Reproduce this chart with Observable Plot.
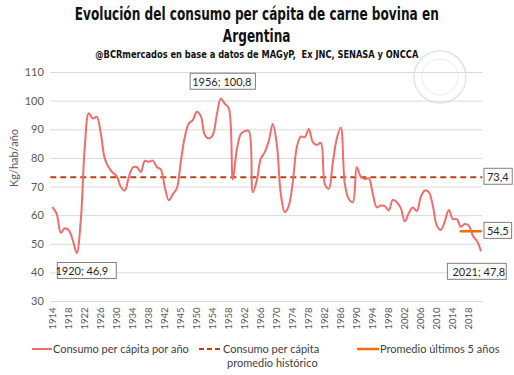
<!DOCTYPE html>
<html>
<head>
<meta charset="utf-8">
<script src="https://cdn.jsdelivr.net/npm/d3@7"></script>
<script src="https://cdn.jsdelivr.net/npm/@observablehq/plot@0.6"></script>
<style>
  body { margin:0; background:#fff; width:514px; height:375px; overflow:hidden; position:relative; font-family: Lato, "Noto Sans", sans-serif; }
  .hd { position:absolute; left:0; width:514px; text-align:center; font-family:"Liberation Sans Narrow","DejaVu Sans Condensed","Roboto",sans-serif; font-weight:bold; color:#111; }
  .hd span { display:inline-block; transform-origin:50% 50%; white-space:nowrap; }
  #t1 { top:3px; font-size:17px; line-height:22px; }
  #t2 { top:25px; font-size:17px; line-height:22px; }
  #sub { top:48px; font-size:10px; line-height:13px; }
  #chart { position:absolute; left:0; top:64px; }
  .leg { position:absolute; font-size:11px; color:#404040; white-space:nowrap; line-height:13px; }
  .legline { position:absolute; }
  #wm { position:absolute; left:410px; top:48px; }
</style>
</head>
<body>
<svg id="wm" width="60" height="60"><circle cx="30" cy="29" r="26" fill="none" stroke="#e4e4e4" stroke-width="1.5"/><circle cx="30" cy="29" r="18" fill="none" stroke="#ececec" stroke-width="1"/></svg>
<div id="t1" class="hd"><span>Evolución del consumo per cápita de carne bovina en</span></div>
<div id="t2" class="hd"><span>Argentina</span></div>
<div id="sub" class="hd"><span>@BCRmercados en base a datos de MAGyP,&nbsp; Ex JNC, SENASA y ONCCA</span></div>
<div id="chart"></div>
<div id="legend"></div>
<script>
// ---- data ----
const startYear = 1914;
const consumo = [
  62.8, 60.5, 54.0, 55.6, 54.9, 51.4, 46.9, 58.4, 84.0, 95.8,
  93.9, 94.5, 88.7, 79.9, 76.8, 75.0, 73.8, 70.0, 68.8, 73.5,
  76.8, 77.0, 75.2, 79.1, 78.8, 79.2, 77.0, 76.1, 70.0, 65.4,
  67.5, 69.5, 78.8, 87.5, 92.2, 93.4, 96.3, 94.8, 88.2, 87.0,
  88.2, 95.2, 100.8, 99.1, 97.5, 72.6, 83.0, 88.5, 89.5, 89.6,
  68.2, 72.3, 79.9, 82.2, 86.1, 92.0, 85.0, 67.6, 61.2, 63.5,
  71.7, 83.9, 87.6, 87.4, 90.3, 85.7, 84.7, 85.4, 71.1, 69.4,
  78.4, 86.9, 90.8, 71.1, 65.8, 64.7, 76.9, 73.6, 72.8, 73.1,
  67.6, 62.9, 63.5, 63.3, 61.8, 65.5, 64.7, 62.6, 58.0, 60.9,
  62.8, 61.6, 66.5, 68.8, 68.2, 63.5, 56.5, 55.0, 58.0, 62.0,
  58.8, 58.8, 56.1, 57.1, 56.5, 53.0, 51.2, 47.8
];
const tickLabels = ["1914","1918","1922","1926","1930","1934","1938","1942","1945","1950",
  "1954","1958","1962","1966","1970","1974","1978","1982","1986","1990",
  "1994","1998","2002","2006","2010","2014","2018"];
const yTicks = [30, 40, 50, 60, 70, 80, 90, 100, 110];
const promedioHistorico = 73.4;
const promedio5 = 54.5;
const promedio5Years = [2016, 2021];
const annotatedYears = [1920, 1956, 2021];
const annotationY = [40.5, 106.6, 40.2];
const annotationDx = [5, 1, -2];

const seriesName = "Consumo per cápita por año";
const histName = ["Consumo per cápita", "promedio histórico"];
const avg5Name = "Promedio últimos 5 años";

// ---- derived tables ----
const data = consumo.map((v, i) => ({year: startYear + i, value: v}));
const tickYears = tickLabels.map((_, k) => startYear + 4 * k);
const fmt = v => String(v).replace(".", ",");
const annos = annotatedYears.map((yr, k) => ({
  x: yr, y: annotationY[k], dx: annotationDx[k],
  text: `${yr}; ${fmt(consumo[yr - startYear])}`
}));
const avg5Line = promedio5Years.map(yr => ({year: yr, value: promedio5}));
const rightLabels = [{y: promedioHistorico}, {y: promedio5}];

const RED = "#f36c6c", DARK = "#b8410e", ORANGE = "#ff6a0a";

// ---- header widths (condensed look) ----
function fitWidth(sel, target, scaleOverride) {
  const el = document.querySelector(sel);
  const s = scaleOverride || target / el.getBoundingClientRect().width;
  el.style.transform = `scaleX(${s})`;
  return s;
}
const ts = fitWidth("#t1 span", 364);
fitWidth("#t2 span", 0, ts);
fitWidth("#sub span", 323);

const plot = Plot.plot({
  width: 514, height: 272,
  marginLeft: 50.3, marginRight: 31.7, marginTop: 8, marginBottom: 35,
  style: {background: "transparent", fontFamily: "Lato, 'Noto Sans', sans-serif", color: "#595959", overflow: "visible"},
  x: {domain: [startYear - 0.5, startYear + consumo.length - 0.5]},
  y: {domain: [30, 110]},
  marks: [
    Plot.ruleY(yTicks, {stroke: "#d9d9d9", strokeWidth: 1}),
    Plot.axisY({ticks: yTicks, tickSize: 0, tickPadding: 7, fontSize: 11, label: null}),
    Plot.axisX({ticks: tickYears, tickFormat: d => tickLabels[(d - startYear) / 4], tickRotate: -90, tickSize: 0, tickPadding: 6, fontSize: 9.5, label: null}),
    Plot.text(["Kg/hab/año"], {frameAnchor: "left", dx: -36, rotate: -90, fontSize: 11, fill: "#595959"}),
    Plot.ruleY([promedioHistorico], {stroke: DARK, strokeWidth: 2, strokeDasharray: "6,4"}),
    Plot.line(data, {x: "year", y: "value", stroke: RED, strokeWidth: 2, curve: "catmull-rom"}),
    Plot.line(avg5Line, {x: "year", y: "value", stroke: ORANGE, strokeWidth: 2.5}),
    Plot.text(annos, {x: "x", y: "y", text: "text", fontSize: 11, fill: "#262626", className: "anno"}),
    Plot.text(rightLabels, {x: startYear + consumo.length - 1, y: "y", dx: 17, text: d => fmt(d.y), fontSize: 11, fill: "#262626", className: "anno"})
  ]
});
document.getElementById("chart").appendChild(plot);

// apply per-annotation dx offsets and draw boxes around annotation texts
d3.select(plot).selectAll("g.anno").each(function(_, gi) {
  d3.select(this).selectAll("text").each(function(_, ti) {
    if (gi === 0) d3.select(this).attr("dx", annos[ti].dx);
  });
});
d3.select(plot).selectAll("g.anno text").each(function() {
  const b = this.getBBox();
  const tr = this.getAttribute("transform") || "";
  const dx = +(this.getAttribute("dx") || 0);
  d3.select(this.parentNode).insert("rect", () => this)
    .attr("x", b.x + dx - 3).attr("y", b.y - 1.5)
    .attr("width", b.width + 6).attr("height", b.height + 3)
    .attr("transform", tr)
    .attr("fill", "#fff").attr("stroke", "#7f7f7f").attr("stroke-width", 1);
});

// ---- legend ----
const leg = document.getElementById("legend");
function lineSample(x1, x2, y, color, dash, w) {
  const s = document.createElementNS("http://www.w3.org/2000/svg", "svg");
  s.setAttribute("class", "legline");
  s.setAttribute("width", x2 - x1); s.setAttribute("height", 6);
  s.style.left = x1 + "px"; s.style.top = (y - 3) + "px";
  s.innerHTML = `<line x1="0" x2="${x2 - x1}" y1="3" y2="3" stroke="${color}" stroke-width="${w}" ${dash ? `stroke-dasharray="${dash}"` : ""}/>`;
  leg.appendChild(s);
}
function label(x, y, txt) {
  const d = document.createElement("div");
  d.className = "leg"; d.textContent = txt;
  d.style.left = x + "px"; d.style.top = (y - 7) + "px";
  leg.appendChild(d);
}
lineSample(32, 52, 349, RED, null, 2);
label(53, 349, seriesName);
lineSample(199, 221, 349, DARK, "5,3", 2);
label(223, 349, histName[0]);
label(227, 363, histName[1]);
lineSample(357, 379, 349, ORANGE, null, 2.5);
label(380, 349, avg5Name);
</script>
</body>
</html>
